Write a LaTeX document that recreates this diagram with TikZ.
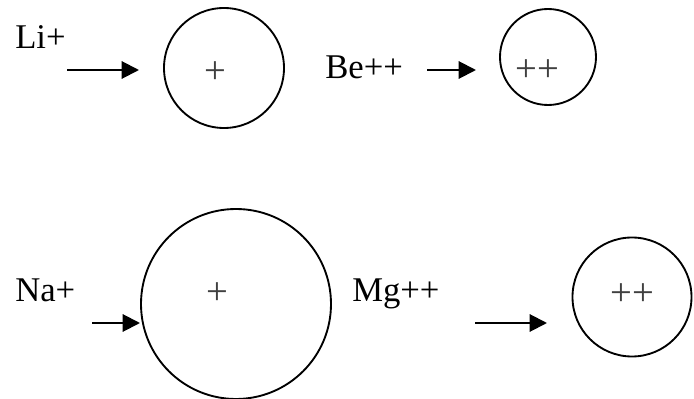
\documentclass[tikz,border=0pt]{standalone}
\usepackage{fontspec}
\setmainfont{Liberation Serif}
\usepackage{xcolor}
\usetikzlibrary{arrows.meta}
\definecolor{chargegray}{RGB}{64,64,64}

\begin{document}
\begin{tikzpicture}[x=0.75pt,y=-0.75pt,
    every node/.style={inner sep=0pt},
    ionlabel/.style={anchor=base west,font=\fontsize{26}{30}\selectfont},
    ion/.style={draw,circle,line width=1.4pt},
    charge/.style={text=chargegray,font=\fontsize{29}{32}\selectfont},
    push/.style={line width=1.5pt,-{Triangle[length=13pt,width=13pt]}}]
			\useasboundingbox (0,0) rectangle (694,399);
			
			% top row
			\node[ionlabel] (li) at (15,49) {Li+};
			\coordinate (liA) at (67,70);
			\coordinate (liB) at (139,70);
			\draw[push] (liA) -- (liB);
			\node[ion,minimum size=90pt] (licirc) at (224,68) {};
			\node[charge] (liq) at (215,73) {+};
			
			\node[ionlabel] (be) at (325,79) {Be++};
			\coordinate (beA) at (427,70);
			\coordinate (beB) at (476,70);
			\draw[push] (beA) -- (beB);
			\node[ion,minimum size=72pt] (becirc) at (548,57) {};
			\node[charge] (beq) at (537,71) {++};
			
			% bottom row
			\node[ionlabel] (na) at (15,302) {Na+};
			\coordinate (naA) at (92,323);
			\coordinate (naB) at (140,323);
			\draw[push] (naA) -- (naB);
			\node[ion,minimum size=142.5pt] (nacirc) at (236,304) {};
			\node[charge] (naq) at (217,294) {+};
			
			\node[ionlabel] (mg) at (352,302) {Mg++};
			\coordinate (mgA) at (475,323);
			\coordinate (mgB) at (547,323);
			\draw[push] (mgA) -- (mgB);
			\node[ion,minimum size=89.25pt] (mgcirc) at (632,297) {};
			\node[charge] (mgq) at (632,295) {++};
			
		\end{tikzpicture}
\end{document}
